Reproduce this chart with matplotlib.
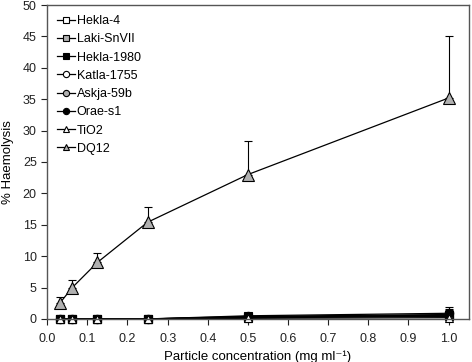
import numpy as np
import matplotlib
matplotlib.use("Agg")
import matplotlib.pyplot as plt
from matplotlib.lines import Line2D

plt.rcParams['font.family'] = ['Liberation Sans', 'DejaVu Sans']

conc = [0.03125, 0.0625, 0.125, 0.25, 0.5, 1.0]

names = ["Hekla-4", "Laki-SnVII", "Hekla-1980", "Katla-1755", "Askja-59b", "Orae-s1", "TiO2", "DQ12"]
hekla4 = [0, 0, 0, 0, 0.2, 0.5]
laki = [0, 0, 0, 0, 0.3, 0.6]
hekla1980 = [0, 0, 0, 0, 0.4, 0.7]
katla = [0, 0, 0, 0, 0.2, 0.4]
askja = [0, 0, 0, 0, 0.3, 0.5]
orae = [0, 0, 0, 0, 0.5, 0.9]
tio2 = [0, 0, 0, 0, 0.1, 0.2]
dq12 = [2.5, 5.0, 9.0, 15.4, 23.0, 35.2]

hekla4_err = [0, 0, 0, 0, 0.3, 0.6]
laki_err = [0, 0, 0, 0, 0.3, 0.8]
hekla1980_err = [0, 0, 0, 0, 0.4, 0.9]
katla_err = [0, 0, 0, 0, 0.2, 0.5]
askja_err = [0, 0, 0, 0, 0.3, 0.6]
orae_err = [0, 0, 0, 0, 0.4, 1.0]
tio2_err = [0, 0, 0, 0, 0.1, 0.3]
dq12_err = [1.0, 1.2, 1.5, 2.4, 5.3, 9.8]

series = [hekla4, laki, hekla1980, katla, askja, orae, tio2, dq12]
errors = [hekla4_err, laki_err, hekla1980_err, katla_err, askja_err, orae_err, tio2_err, dq12_err]
markers = ["s", "s", "s", "o", "o", "o", "^", "^"]
faces = ["white", "#b0b0b0", "black", "white", "#b0b0b0", "black", "white", "#b0b0b0"]
sizes = [6, 6, 6, 5, 5, 6, 6, 8]

fig = plt.figure(figsize=(4.72, 3.62), dpi=100)
ax = fig.add_axes([0.1, 0.119, 0.893, 0.867])

handles = []
for name, y, e, m, fc, ms in zip(names, series, errors, markers, faces, sizes):
    ax.errorbar(conc, y, yerr=[np.zeros(len(e)), e], color="black", lw=0.9,
                marker=m, mfc=fc, mec="black", mew=0.8, ms=ms,
                capsize=3, elinewidth=0.8, capthick=0.8, clip_on=False)
    handles.append(Line2D([], [], color="black", lw=0.9, marker=m, mfc=fc,
                          mec="black", mew=0.8, ms=4.5, label=name))

ax.set_xlim(0, 1.05)
ax.set_ylim(0, 50)
ax.set_xticks(np.arange(0, 1.01, 0.1))
ax.set_xticklabels([f"{v:.1f}" for v in np.arange(0, 1.01, 0.1)])
ax.set_yticks(np.arange(0, 51, 5))
ax.tick_params(direction="out", length=4, width=0.8, labelsize=9, colors="#222222")
ax.tick_params(axis="x", pad=6)
for s in ax.spines.values():
    s.set_color("#555555")
    s.set_linewidth(1.0)

ax.set_xlabel("Particle concentration (mg ml\u207b\u00b9)", fontsize=9.5, labelpad=4)
ax.set_ylabel("% Haemolysis", fontsize=9.5, labelpad=6)

ax.legend(handles=handles, loc="upper left", frameon=False, fontsize=9,
          handlelength=1.4, handletextpad=0.15, labelspacing=0.5,
          borderaxespad=0.5, borderpad=0.3)

fig.savefig("out.png", dpi=100)
